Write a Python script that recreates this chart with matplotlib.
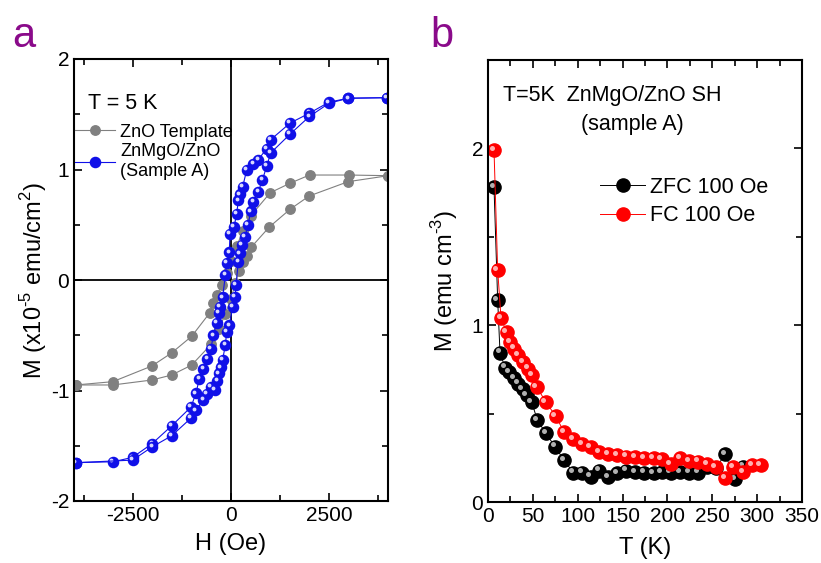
import numpy as np
import matplotlib
matplotlib.use('Agg')
import matplotlib.pyplot as plt
import matplotlib.transforms as mtransforms
from matplotlib.ticker import MultipleLocator

plt.rcParams['font.family'] = ['Liberation Sans', 'DejaVu Sans']
plt.rcParams['mathtext.fontset'] = 'custom'
plt.rcParams['mathtext.rm'] = 'Liberation Sans'
plt.rcParams['axes.unicode_minus'] = False

### Donnees panneau a : cycles d'hysteresis a 5 K
# ZnO template, branche descendante puis montante
H_zno_desc = [4000, 3000, 2000, 1500, 1000, 500, 300, 150, 0, -100, -240, -350, -450, -536, -1003, -1513, -2015, -3010, -3955]
M_zno_desc = [0.944, 0.95, 0.95, 0.875, 0.79, 0.58, 0.44, 0.31, 0.17, 0.06, -0.045, -0.136, -0.21, -0.295, -0.51, -0.66, -0.778, -0.92, -0.95]
H_zno_asc = [-3955, -3010, -2015, -1513, -1003, -500, -300, -150, 0, 110, 200, 298, 400, 510, 977, 1505, 1990, 2985, 4005]
M_zno_asc = [-0.95, -0.95, -0.905, -0.86, -0.77, -0.58, -0.44, -0.31, -0.17, -0.03, 0.08, 0.166, 0.22, 0.295, 0.48, 0.64, 0.76, 0.89, 0.944]

# ZnMgO/ZnO (sample A)
H_sa_desc = [3970, 2993, 2500, 1998, 1505, 1012, 910, 697, 570, 400, 298, 230, 186, 145, 77, -26, -43, -110, -145, -212, -280, -314, -365, -450, -510, -604, -706, -808, -893, -1020, -1513, -2007, -2508, -3002, -3954]
M_sa_desc = [1.65, 1.645, 1.61, 1.51, 1.42, 1.27, 1.19, 1.09, 1.05, 0.995, 0.845, 0.775, 0.72, 0.60, 0.48, 0.42, 0.25, 0.157, 0.045, -0.157, -0.24, -0.30, -0.39, -0.50, -0.62, -0.715, -0.805, -0.895, -1.025, -1.15, -1.32, -1.48, -1.605, -1.645, -1.653]
H_sa_asc = [-3954, -2508, -2007, -1513, -1020, -893, -706, -620, -518, -408, -349, -316, -263, -212, -145, -110, -43, 43, 102, 128, 186, 230, 272, 357, 434, 502, 570, 697, 800, 910, 1012, 1505, 1998, 2500, 2993, 3970]
M_sa_asc = [-1.653, -1.63, -1.51, -1.41, -1.25, -1.18, -1.086, -1.03, -0.965, -0.995, -0.914, -0.845, -0.79, -0.72, -0.59, -0.47, -0.41, -0.24, -0.15, -0.045, 0.166, 0.24, 0.317, 0.39, 0.50, 0.62, 0.71, 0.80, 0.905, 1.03, 1.15, 1.32, 1.48, 1.60, 1.645, 1.65]

### Donnees panneau b : ZFC / FC sous 100 Oe
T_zfc = [6.7, 10.8, 13.4, 19, 23.8, 29, 33.8, 38.6, 43, 48.6, 55, 64.6, 74.7, 84.7, 95.1, 104.5, 114.4, 124, 134, 144, 153.8, 163.8, 174, 184.5, 193.6, 203.6, 214, 224, 234, 244, 254, 264.3, 275.4, 284.7]
M_zfc = [1.78, 1.14, 0.845, 0.76, 0.736, 0.699, 0.67, 0.637, 0.605, 0.567, 0.463, 0.388, 0.313, 0.237, 0.166, 0.166, 0.143, 0.177, 0.14, 0.162, 0.177, 0.171, 0.166, 0.162, 0.171, 0.166, 0.171, 0.166, 0.166, 0.2, 0.19, 0.271, 0.128, 0.2]
T_fc = [6.7, 10.8, 14.5, 20.8, 24.5, 29.3, 33.8, 39.4, 44.3, 49.4, 54.3, 64.3, 75.4, 84.7, 95.1, 105.1, 114.4, 124, 134, 144, 153.8, 163.8, 173.9, 184.5, 193.6, 203.6, 214, 224, 234, 244, 253.8, 264.3, 273.5, 284, 294, 304]
M_fc = [1.99, 1.31, 1.04, 0.96, 0.905, 0.868, 0.83, 0.793, 0.755, 0.717, 0.651, 0.567, 0.486, 0.397, 0.354, 0.328, 0.309, 0.284, 0.271, 0.266, 0.256, 0.254, 0.247, 0.247, 0.243, 0.213, 0.25, 0.233, 0.228, 0.215, 0.196, 0.134, 0.196, 0.171, 0.209, 0.209]

violet = '#8a0a8a'


### Trace une courbe avec des billes (reflet decale)
def billes(ax, x, y, couleur, reflet, ms, lw=0.8, label=None):
    ligne, = ax.plot(x, y, '-o', color=couleur, mfc=couleur, mec=couleur, ms=ms, lw=lw, label=label)
    if reflet is not None:
        tr = mtransforms.offset_copy(ax.transData, fig=ax.figure, x=-ms*0.17, y=ms*0.17, units='points')
        ax.plot(x, y, 'o', color=reflet, ms=ms*0.38, mew=0, transform=tr)
    return ligne


def style_axe(ax):
    ax.tick_params(which='both', direction='in', top=True, right=True, labelsize=15, width=1.2)
    ax.tick_params(which='major', length=6)
    ax.tick_params(which='minor', length=4)
    for s in ax.spines.values():
        s.set_linewidth(1.5)


fig = plt.figure(figsize=(8.21, 5.63), dpi=100)
W, Hf = 821, 563
ax1 = fig.add_axes([74/W, (Hf-501)/Hf, (388-74)/W, (501-59)/Hf])
ax2 = fig.add_axes([488/W, (Hf-502)/Hf, (802-488)/W, (502-60)/Hf])

## Panneau a
ax1.axhline(0, color='k', lw=1.3, zorder=1)
ax1.axvline(0, color='k', lw=1.3, zorder=1)
g1 = billes(ax1, H_zno_desc, M_zno_desc, '#808080', None, 6.8, label='ZnO Template')
billes(ax1, H_zno_asc, M_zno_asc, '#808080', None, 6.8)
b1 = billes(ax1, H_sa_desc, M_sa_desc, '#1010e8', '#d8d8ff', 7.3, label='ZnMgO/ZnO\n(Sample A)')
billes(ax1, H_sa_asc, M_sa_asc, '#1010e8', '#d8d8ff', 7.3)
ax1.set_xlim(-4000, 4000)
ax1.set_ylim(-2, 2)
ax1.xaxis.set_major_locator(MultipleLocator(2500))
ax1.xaxis.set_minor_locator(MultipleLocator(1250))
ax1.yaxis.set_major_locator(MultipleLocator(1))
ax1.yaxis.set_minor_locator(MultipleLocator(0.5))
style_axe(ax1)
ax1.set_xlabel('H (Oe)', fontsize=17, labelpad=6)
ax1.set_ylabel('M (x10$^{\u20105}$ emu/cm$^{2}$)', fontsize=17, labelpad=1)
ax1.text(0.045, 0.9, 'T = 5 K', transform=ax1.transAxes, fontsize=15.5, va='center')
ax1.legend(handles=[g1, b1], loc='upper left', bbox_to_anchor=(-0.02, 0.87), frameon=False,
           fontsize=13, handlelength=2.2, handletextpad=0.3, borderaxespad=0, labelspacing=0.15)
fig.text(12/W, 1-47/Hf, 'a', color=violet, fontsize=30, va='baseline')

## Panneau b
z = billes(ax2, T_zfc, M_zfc, 'black', '#b0b0b0', 9.5, lw=0.7, label='ZFC 100 Oe')
f = billes(ax2, T_fc, M_fc, '#ff0000', '#ffb0b0', 9.5, lw=0.7, label='FC 100 Oe')
ax2.set_xlim(0, 350)
ax2.set_ylim(0, 2.5)
ax2.xaxis.set_major_locator(MultipleLocator(50))
ax2.xaxis.set_minor_locator(MultipleLocator(25))
ax2.yaxis.set_major_locator(MultipleLocator(1))
ax2.yaxis.set_minor_locator(MultipleLocator(0.5))
style_axe(ax2)
ax2.set_xlabel('T (K)', fontsize=17, labelpad=8)
ax2.set_ylabel('M (emu cm$^{\u20103}$)', fontsize=17, labelpad=8)
ax2.text(0.048, 0.92, 'T=5K  ZnMgO/ZnO SH', transform=ax2.transAxes, fontsize=15.5, va='center')
ax2.text(0.46, 0.855, '(sample A)', transform=ax2.transAxes, fontsize=15.5, va='center', ha='center')
ax2.legend(handles=[z, f], loc='upper left', bbox_to_anchor=(0.33, 0.755), frameon=False,
           fontsize=15.5, handlelength=2.1, handletextpad=0.2, borderaxespad=0, labelspacing=0.35)
fig.text(430/W, 1-47/Hf, 'b', color=violet, fontsize=30, va='baseline')

fig.savefig('out.png', dpi=100)
